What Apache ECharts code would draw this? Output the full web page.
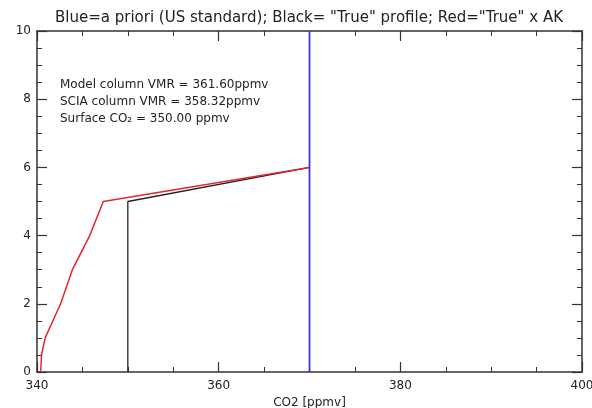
<!DOCTYPE html>
<html><head><meta charset="utf-8">
<script src="https://cdn.jsdelivr.net/npm/echarts@6/dist/echarts.min.js"></script>
<style>html,body{margin:0;padding:0;background:#fff}#c{width:592px;height:408px}</style>
</head><body><div id="c"></div>
<script>
const titleText = 'Blue=a priori (US standard); Black= "True" profile; Red="True" x AK';
const xName = 'CO2 [ppmv]';
const notes = ['Model column VMR = 361.60ppmv', 'SCIA column VMR = 358.32ppmv', 'Surface CO\u2082 = 350.00 ppmv'];
const xTicks = [340, 360, 380, 400];
const yTicks = [0, 2, 4, 6, 8, 10];
// [CO2, altitude]; above 6 km the "True" profiles coincide with the a priori
const blueProfile = [[370, 0], [370, 10]];
const blackProfile = [[350, 0], [350, 5], [370, 6]];
const redProfile = [[340.4, 0], [340.5, 0.5], [340.9, 1], [342.6, 2], [343.9, 3], [345.8, 4], [347.3, 5], [370, 6]];

const axisColor = '#333';
const font = 'DejaVu Sans';
const chart = echarts.init(document.getElementById('c'), null, {renderer: 'canvas'});
const baseX = {
  type: 'value', min: 340, max: 400, interval: 20,
  axisLine: {show: true, onZero: false, lineStyle: {color: axisColor, width: 1.5}},
  axisTick: {show: true, inside: true, length: 10, lineStyle: {color: axisColor, width: 1.2}},
  minorTick: {show: true, splitNumber: 4, length: 5, lineStyle: {color: axisColor, width: 1}},
  splitLine: {show: false}
};
const baseY = {
  type: 'value', min: 0, max: 10, interval: 2,
  axisLine: {show: true, onZero: false, lineStyle: {color: axisColor, width: 1.5}},
  axisTick: {show: true, inside: true, length: 10, lineStyle: {color: axisColor, width: 1.2}},
  minorTick: {show: true, splitNumber: 4, length: 5, lineStyle: {color: axisColor, width: 1}},
  splitLine: {show: false}
};
chart.setOption({
  backgroundColor: '#fff',
  animation: false,
  grid: {left: 37, right: 10, top: 31, bottom: 36, outerBoundsMode: 'none', containLabel: false},
  xAxis: [
    Object.assign({}, baseX, {
      position: 'bottom', name: xName, nameLocation: 'middle', nameGap: 24,
      nameTextStyle: {fontFamily: font, fontSize: 12, color: '#222'},
      axisLabel: {show: true, margin: 8, fontFamily: font, fontSize: 12, color: '#222',
        formatter: v => xTicks.includes(v) ? String(v) : ''}
    }),
    Object.assign({}, baseX, {position: 'top', axisLabel: {show: false}})
  ],
  yAxis: [
    Object.assign({}, baseY, {
      position: 'left',
      axisLabel: {show: true, margin: 6, fontFamily: font, fontSize: 12, color: '#222',
        formatter: v => yTicks.includes(v) ? String(v) : ''}
    }),
    Object.assign({}, baseY, {position: 'right', axisLabel: {show: false}})
  ],
  graphic: [
    {type: 'text', x: 309, y: 18.5,
     style: {text: titleText, fontFamily: font, fontSize: 15, fill: '#222', align: 'center', verticalAlign: 'middle'}}
  ].concat(notes.map((t, i) => ({
    type: 'text', left: 60, top: 79 + i * 17,
    style: {text: t, fontFamily: font, fontSize: 12, fill: '#222'}
  }))),
  series: [
    {type: 'line', data: blackProfile, symbol: 'none', lineStyle: {color: '#222', width: 1.3}},
    {type: 'line', data: redProfile, symbol: 'none', lineStyle: {color: '#e8262a', width: 1.5}},
    {type: 'line', data: blueProfile, symbol: 'none', lineStyle: {color: '#3a3ac8', width: 1.8}}
  ]
});
</script></body></html>
